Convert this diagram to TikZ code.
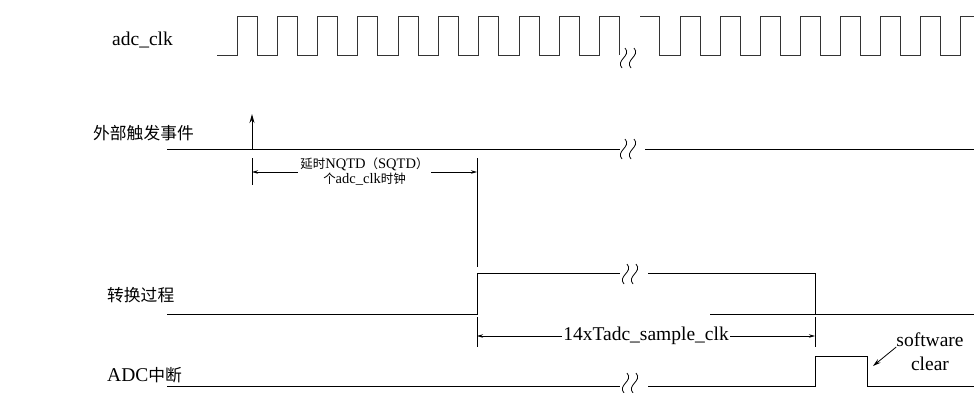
\documentclass[tikz,border=0pt]{standalone}
\usepackage{fontspec}
\setmainfont{Liberation Serif}
\newfontfamily\cjk[Scale=0.86]{Noto Sans CJK SC}
\usetikzlibrary{arrows.meta}
\tikzset{
  sig/.style={line width=1pt},
  clk/.style={line width=1pt, black!80},
  dim/.style={line width=0.8pt, {Stealth[length=6pt,width=3.5pt]}-{Stealth[length=6pt,width=3.5pt]}},
  tick/.style={line width=0.8pt},
  lbl/.style={anchor=west, inner sep=0pt, font=\fontsize{19.5}{24}\selectfont},
  note/.style={inner sep=2pt, align=center, font=\fontsize{14.5}{15}\selectfont},
  >=Stealth,
}
\newcommand\gapmark[2]{%
  \foreach \d in {0,9}
    \draw[line width=0.8pt] (#1+\d-1,#2+10) .. controls (#1+\d-8,#2+2) and (#1+\d+9,#2-2) .. (#1+\d+2,#2-10);
}

\begin{document}
\begin{tikzpicture}[x=1pt, y=-1pt]
    \useasboundingbox (0,0) rectangle (974,392);
    \node[lbl] (clkname) at (112,40) {adc\_clk};
    \node[lbl] (trigname) at (93,133) {\cjk 外部触发事件};
    \node[lbl] (convname) at (107,295) {\cjk 转换过程};
    \node[lbl] (intname) at (107,375) {ADC{\cjk 中断}};
    % adc_clk
    \draw[clk] (217,55) \foreach \k in {0,...,9} { -- ({237+40.3*\k},55) -- ++(0,-39) -- ++(20,0) -- ++(0,39) };
    \draw[clk] (640,16) -- (659,16) -- (659,55)
      \foreach \k in {0,...,6} { -- ({680+40*\k},55) -- ++(0,-39) -- ++(20,0) -- ++(0,39) }
      -- (960,55) -- (960,16) -- (974,16);
    \gapmark{623}{58}
    % trigger
    \draw[sig] (167,149) -- (620,149);
    \draw[sig] (645,149) -- (974,149);
    \gapmark{623}{149}
    \coordinate (trig) at (252,149);
    \coordinate (trigtop) at (252,114);
    \draw[sig, -{Stealth[length=9pt,width=5pt]}] (trig) -- (trigtop);
    \coordinate (d0) at (252,172);
    \coordinate (d1) at (477,172);
    \draw[tick] (252,158) -- (252,185);
    \draw[tick] (477,158) -- (477,267);
    \draw[dim] (d0) -- node[note, fill=white] (dly) {{\cjk 延时}NQTD{\cjk （}SQTD{\cjk ）}\\{\cjk 个}adc\_clk{\cjk 时钟}} (d1);
    % conversion
    \draw[sig] (167,314) -- (477,314) -- (477,273) -- (620,273);
    \draw[sig] (648,273) -- (815,273) -- (815,314);
    \draw[sig] (710,314) -- (974,314);
    \gapmark{625}{274}
    \coordinate (c0) at (477,336);
    \coordinate (c1) at (815,336);
    \draw[tick] (477,317) -- (477,347);
    \draw[tick] (815,317) -- (815,347);
    \draw[dim] (c0) -- node[lbl, anchor=center, inner sep=1pt, fill=white] (conv) {14xTadc\_sample\_clk} (c1);
    % interrupt
    \draw[sig] (167,386) -- (620,386);
    \draw[sig] (648,386) -- (815,386) -- (815,356) -- (867,356) -- (867,386) -- (974,386);
    \gapmark{625}{383}
    \node[lbl, anchor=center, align=center] (clr) at (930,352) {software\\clear};
    \coordinate (fall) at (873,366);
    \draw[line width=0.8pt, -{Stealth[length=8pt,width=4.5pt]}] (clr.west |- 0,347) -- (fall);
\end{tikzpicture}
\end{document}
